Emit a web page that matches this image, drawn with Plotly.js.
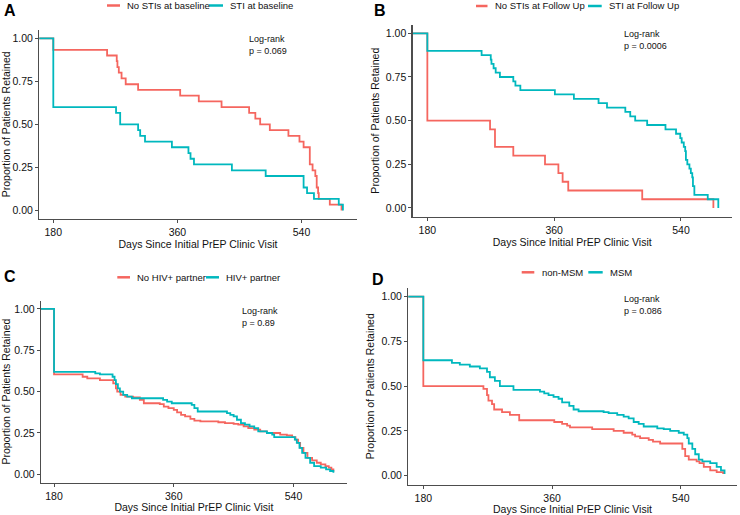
<!DOCTYPE html>
<html>
<head>
<meta charset="utf-8">
<script src="https://cdn.plot.ly/plotly-3.0.1.min.js"></script>
<style>html,body{margin:0;padding:0;background:#fff;}#chart{width:740px;height:515px;}</style>
</head>
<body>
<div id="chart"></div>
<script>
// ---------- Data (days since initial visit, proportion retained) ----------
// Panel A: STIs at baseline
const aRedName = "No STIs at baseline";
const aRedDays = [0,180,258,272,273,275,279,285,303,364,391,424,464,473,480,494,521,537,543,552,556,560,562,564,565,581,598];
const aRedSurv = [1,0.933,0.900,0.867,0.833,0.800,0.767,0.733,0.700,0.667,0.633,0.600,0.567,0.533,0.500,0.467,0.433,0.400,0.367,0.267,0.233,0.200,0.133,0.100,0.067,0.033,0];
const aTealName = "STI at baseline";
const aTealDays = [0,180,271,277,303,306,313,352,376,379,384,439,488,543,548,558,594,600];
const aTealSurv = [1,0.600,0.567,0.500,0.467,0.433,0.400,0.367,0.333,0.300,0.267,0.233,0.200,0.133,0.100,0.067,0.033,0];
const aPval = "p = 0.069";

// Panel B: STIs at follow up
const bRedName = "No STIs at Follow Up";
const bRedDays = [0,180,269,276,302,347,366,372,380,485,586];
const bRedSurv = [1,0.50,0.45,0.35,0.30,0.25,0.20,0.15,0.10,0.05,0];
const bTealName = "STI at Follow Up";
const bTealDays = [0,180,257,270,271,274,277,283,302,305,312,361,388,423,435,461,468,475,492,518,533,539,541,544,546,547,549,552,554,556,557,559,578,593];
const bTealSurv = [1,0.900,0.875,0.850,0.825,0.800,0.775,0.750,0.725,0.700,0.675,0.650,0.625,0.600,0.575,0.550,0.525,0.500,0.475,0.450,0.425,0.400,0.375,0.350,0.325,0.275,0.250,0.225,0.200,0.175,0.125,0.075,0.050,0];
const bPval = "p = 0.0006";

// Panel C: HIV+ partner
const cRedName = "No HIV+ partner";
const cRedDays = [0,180,223,230,249,269,273,275,280,287,299,309,315,339,345,352,360,365,371,377,385,391,400,427,437,450,457,465,472,481,490,500,520,530,538,543,547,550,555,561,568,575,581,588,593,597,600];
const cRedSurv = [1,0.605,0.59,0.58,0.57,0.55,0.52,0.50,0.48,0.47,0.465,0.45,0.43,0.425,0.41,0.40,0.39,0.375,0.36,0.35,0.335,0.325,0.32,0.315,0.31,0.305,0.30,0.29,0.28,0.27,0.26,0.25,0.24,0.235,0.225,0.21,0.19,0.16,0.13,0.10,0.085,0.07,0.06,0.05,0.04,0.03,0.015];
const cTealName = "HIV+ partner";
const cTealDays = [0,180,242,249,268,271,273,276,279,284,290,297,344,350,357,387,391,396,440,445,450,455,461,467,474,481,487,500,508,511,542,545,549,553,558,565,571,581,589,595,600];
const cTealSurv = [1,0.62,0.61,0.605,0.59,0.57,0.545,0.52,0.50,0.48,0.47,0.46,0.45,0.44,0.43,0.42,0.40,0.38,0.37,0.36,0.35,0.33,0.31,0.30,0.29,0.28,0.26,0.25,0.24,0.225,0.21,0.19,0.16,0.13,0.10,0.07,0.05,0.04,0.03,0.02,0.01];
const cPval = "p = 0.89";

// Panel D: MSM
const dRedName = "non-MSM";
const dRedDays = [0,180,264,269,271,276,279,290,301,314,363,374,381,385,416,446,460,472,476,483,495,501,511,542,546,551,562,566,572,581,590,599];
const dRedSurv = [1,0.50,0.485,0.45,0.42,0.40,0.37,0.355,0.34,0.31,0.30,0.29,0.28,0.27,0.26,0.25,0.24,0.23,0.22,0.21,0.20,0.19,0.18,0.15,0.11,0.09,0.08,0.07,0.05,0.03,0.02,0.01];
const dTealName = "MSM";
const dTealDays = [0,180,220,231,245,259,269,273,280,287,306,343,349,355,362,369,374,384,390,397,432,439,451,460,467,474,481,488,507,516,525,537,544,549,551,556,560,565,570,581,590,596,601];
const dTealSurv = [1,0.645,0.63,0.62,0.61,0.60,0.58,0.55,0.53,0.50,0.48,0.47,0.46,0.45,0.44,0.43,0.41,0.39,0.37,0.36,0.355,0.35,0.34,0.33,0.32,0.30,0.29,0.275,0.265,0.26,0.25,0.24,0.23,0.21,0.18,0.15,0.12,0.09,0.08,0.07,0.05,0.03,0.01];
const dPval = "p = 0.086";

const xTicks = [180, 360, 540];
const yTicks = [0, 0.25, 0.5, 0.75, 1];
const yTickText = ["0.00", "0.25", "0.50", "0.75", "1.00"];
const xTitle = "Days Since Initial PrEP Clinic Visit";
const yTitle = "Proportion of Patients Retained";
const panelLetters = ["A", "B", "C", "D"];

// ---------- Layout helpers ----------
const W = 740, H = 515;
const RED = "#F5665F", TEAL = "#00B8BE";
const FONT = "Liberation Sans, Arial, Helvetica, sans-serif";
const px = v => v / W;
const py = v => 1 - v / H;

// panel boxes in pixels: [left, right, top, bottom], x range
const panels = [
  {box:[39.3,356.7,29.7,219.0], xr:[159.7,620], red:[aRedDays,aRedSurv,aRedName], teal:[aTealDays,aTealSurv,aTealName], p:aPval,
   leg:{y:5.5, r:[107,120,125], t:[209,223,228]}, lr:[246.7,32], letter:[2,11]},
  {box:[412.7,731.7,24.6,216.7], xr:[159.2,612], red:[bRedDays,bRedSurv,bRedName], teal:[bTealDays,bTealSurv,bTealName], p:bPval,
   leg:{y:6, r:[476,487.5,493], t:[588,601.7,607]}, lr:[621.7,27.5], letter:[372,11]},
  {box:[41,346.7,300.7,482.6], xr:[160.4,620], red:[cRedDays,cRedSurv,cRedName], teal:[cTealDays,cTealSurv,cTealName], p:cPval,
   leg:{y:277.3, r:[117.3,130,134.5], t:[206,219,223.5]}, lr:[240,304], letter:[2,276]},
  {box:[408.3,736.7,287.7,484.7], xr:[159,618], red:[dRedDays,dRedSurv,dRedName], teal:[dTealDays,dTealSurv,dTealName], p:dPval,
   leg:{y:272.3, r:[521.7,534.3,540], t:[588.3,602.7,607.5]}, lr:[621.7,292], letter:[370,279]}
];

const traces = [];
const layout = {
  width: W, height: H,
  margin: {l:0, r:0, t:0, b:0},
  paper_bgcolor: "#fff", plot_bgcolor: "#fff",
  showlegend: false,
  font: {family: FONT, color: "#1a1a1a"},
  shapes: [], annotations: []
};

panels.forEach((p, i) => {
  const n = i === 0 ? "" : String(i + 1);
  const xa = "x" + n, ya = "y" + n;
  [["red", RED], ["teal", TEAL]].forEach(([k, col]) => {
    const [d, s, name] = p[k];
    traces.push({
      type: "scatter", mode: "lines", x: d, y: s, name: name,
      xaxis: xa, yaxis: ya,
      line: {color: col, width: 1.8, shape: "hv"},
      hoverinfo: "skip"
    });
  });
  const [l, r, t, b] = p.box;
  const axCommon = {
    showline: true, linecolor: "#4d4d4d", linewidth: 1.3,
    ticks: "outside", ticklen: 3, tickwidth: 1, tickcolor: "#4d4d4d",
    showgrid: false, zeroline: false, fixedrange: true,
    tickfont: {family: FONT, size: 10.5, color: "#111"}
  };
  layout["xaxis" + n] = Object.assign({}, axCommon, {
    domain: [px(l), px(r)], range: p.xr, anchor: ya,
    tickvals: xTicks,
    title: {text: xTitle, font: {family: FONT, size: 10.5, color: "#111"}, standoff: 0}
  });
  layout["yaxis" + n] = Object.assign({}, axCommon, {
    domain: [py(b), py(t)], range: [-0.05, 1.05], anchor: xa,
    tickvals: yTicks, ticktext: yTickText,
    title: {text: yTitle, font: {family: FONT, size: 10.5, color: "#111"}, standoff: 4}
  });
  // manual legend
  const lg = p.leg;
  [[lg.r, RED, p.red[2]], [lg.t, TEAL, p.teal[2]]].forEach(([xs, col, name]) => {
    layout.shapes.push({type:"line", xref:"paper", yref:"paper",
      x0: px(xs[0]), x1: px(xs[1]), y0: py(lg.y), y1: py(lg.y),
      line: {color: col, width: 2.5}});
    layout.annotations.push({xref:"paper", yref:"paper", x: px(xs[2]), y: py(lg.y),
      xanchor:"left", yanchor:"middle", showarrow:false, text: name,
      font:{family: FONT, size: 9.5, color:"#111"}});
  });
  // log-rank annotation
  layout.annotations.push({xref:"paper", yref:"paper", x: px(p.lr[0]), y: py(p.lr[1]),
    xanchor:"left", yanchor:"top", align:"left", showarrow:false,
    text: "Log-rank<br>" + p.p, font:{family: FONT, size: 9, color:"#111"}});
  // panel letter
  layout.annotations.push({xref:"paper", yref:"paper", x: px(p.letter[0]), y: py(p.letter[1]),
    xanchor:"left", yanchor:"middle", showarrow:false,
    text: "<b>" + panelLetters[i] + "</b>", font:{family: FONT, size: 16, color:"#000"}});
});

Plotly.newPlot("chart", traces, layout, {staticPlot: true, displayModeBar: false});
</script>
</body>
</html>
